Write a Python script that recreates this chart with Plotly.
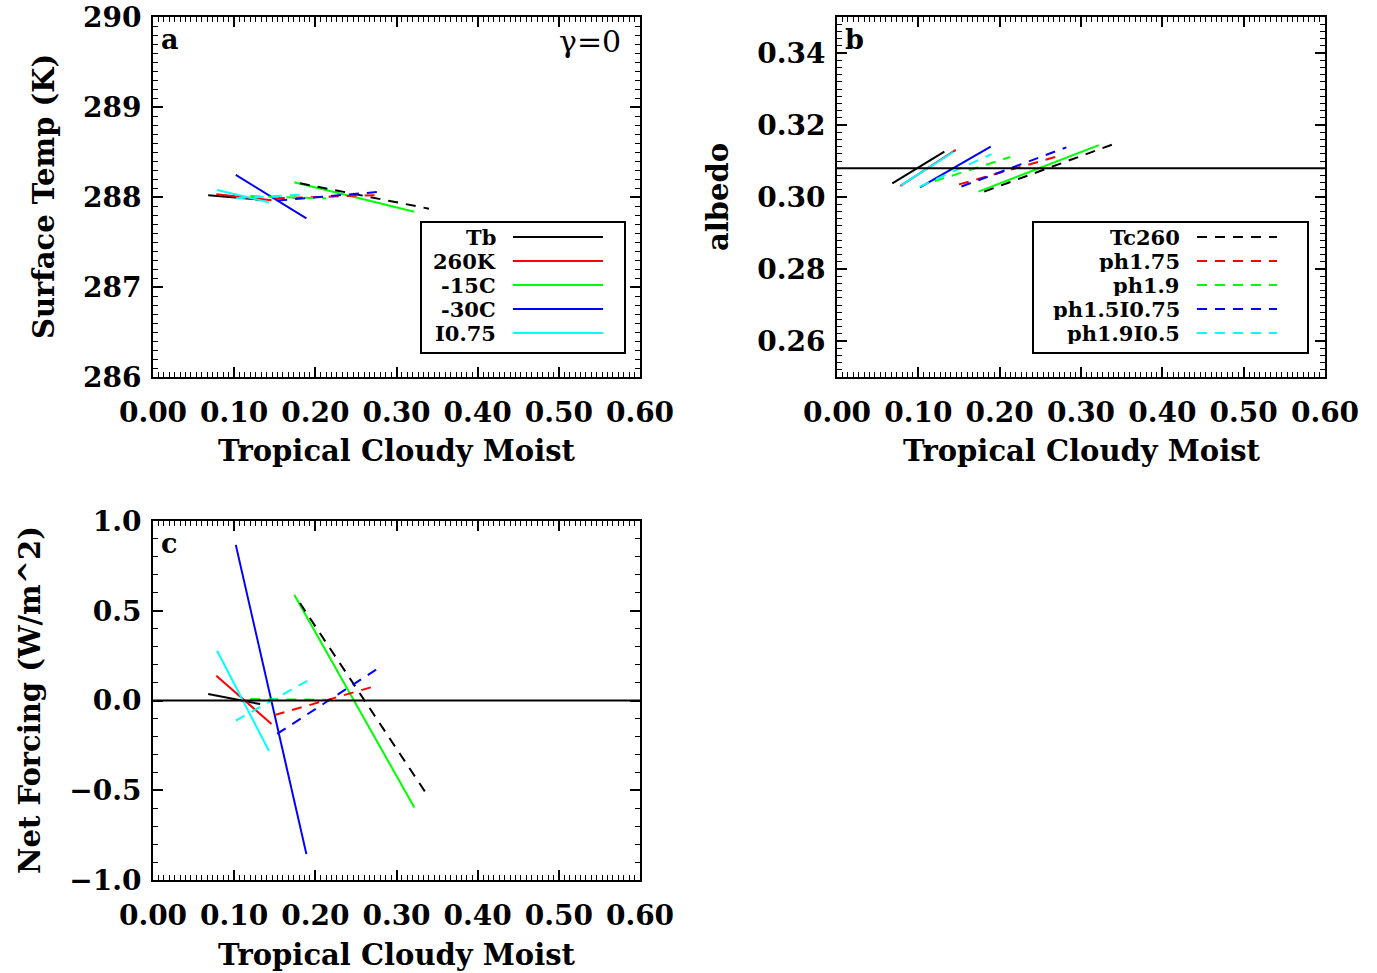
import plotly.graph_objects as go

# ---------------- data ----------------
case_names = ["Tb", "260K", "-15C", "-30C", "I0.75",
              "Tc260", "ph1.75", "ph1.9", "ph1.5I0.75", "ph1.9I0.5"]
case_colors = ["#000000", "#ff0000", "#00ff00", "#0000ff", "#00ffff",
               "#000000", "#ff0000", "#00ff00", "#0000ff", "#00ffff"]
case_dashes = ["solid"] * 5 + ["10px,8px"] * 5

# Tropical cloudy moist (x) at the two ends of each sensitivity segment
moist_start = [0.068, 0.078, 0.174, 0.102, 0.079, 0.181, 0.150, 0.120, 0.153, 0.102]
moist_end = [0.132, 0.146, 0.322, 0.189, 0.143, 0.340, 0.273, 0.213, 0.282, 0.190]

# panel a: surface temperature (K)
tsurf_start = [288.02, 288.03, 288.164, 288.246, 288.078, 288.153, 287.985, 288.01, 287.96, 287.985]
tsurf_end = [287.97, 287.965, 287.836, 287.762, 287.94, 287.87, 288.02, 287.985, 288.06, 288.03]

# panel b: albedo
albedo_start = [0.3038, 0.3031, 0.3015, 0.3027, 0.3033, 0.3015, 0.3035, 0.3044, 0.3029, 0.3029]
albedo_end = [0.3126, 0.3131, 0.3144, 0.3140, 0.3125, 0.3147, 0.3114, 0.3111, 0.3138, 0.3119]

# panel c: net forcing (W/m^2)
forcing_start = [0.036, 0.138, 0.589, 0.867, 0.277, 0.543, -0.081, 0.008, -0.186, -0.112]
forcing_end = [-0.020, -0.131, -0.596, -0.856, -0.282, -0.541, 0.079, 0.004, 0.193, 0.110]

albedo_ref = 0.308
forcing_ref = 0.0

# ---------------- figure ----------------
W, H = 1377, 973
FONT = "DejaVu Serif"
fig = go.Figure()

panels = [
    ("x", "y", tsurf_start, tsurf_end),
    ("x2", "y2", albedo_start, albedo_end),
    ("x3", "y3", forcing_start, forcing_end),
]
for xa, ya, ys, ye in panels:
    for i, name in enumerate(case_names):
        fig.add_trace(go.Scatter(
            x=[moist_start[i], moist_end[i]], y=[ys[i], ye[i]],
            mode="lines", name=name, showlegend=False,
            line=dict(color=case_colors[i], width=2, dash=case_dashes[i]),
            xaxis=xa, yaxis=ya))


def px_dom(x0, x1):
    return [x0 / W, x1 / W]


def py_dom(top, bottom):
    return [1 - bottom / H, 1 - top / H]


tick_font = dict(family=FONT, size=28, color="black", weight="bold")
axis_common = dict(
    showline=True, linecolor="black", linewidth=2, mirror="allticks",
    ticks="inside", ticklen=10, tickwidth=1.5, tickcolor="black",
    showgrid=False, zeroline=False, automargin=False,
    tickfont=tick_font,
)
minor_x = dict(ticks="inside", ticklen=5, tickwidth=1, tickcolor="black", dtick=0.1 / 15, showgrid=False)

xdom_left = px_dom(153, 640)
xdom_right = px_dom(837, 1325)
ydom_top = py_dom(17, 377)
ydom_bot = py_dom(521, 880)

xaxis_common = dict(axis_common, range=[0, 0.6], tick0=0, dtick=0.1, tickformat=".2f",
                    ticklabelstandoff=9, minor=minor_x)

fig.update_layout(
    width=W, height=H, margin=dict(l=0, r=0, t=0, b=0, pad=0, autoexpand=False),
    paper_bgcolor="white", plot_bgcolor="white", showlegend=False,
    xaxis=dict(xaxis_common, domain=xdom_left, anchor="y"),
    yaxis=dict(axis_common, domain=ydom_top, anchor="x", range=[286, 290], tick0=286, dtick=1,
               tickformat="d", ticklabelstandoff=4,
               minor=dict(ticks="inside", ticklen=5, tickwidth=1, tickcolor="black", dtick=0.1)),
    xaxis2=dict(xaxis_common, domain=xdom_right, anchor="y2"),
    yaxis2=dict(axis_common, domain=ydom_top, anchor="x2", range=[0.25, 0.35], tick0=0.26, dtick=0.02,
                tickformat=".2f", ticklabelstandoff=4,
                minor=dict(ticks="inside", ticklen=5, tickwidth=1, tickcolor="black", dtick=0.002)),
    xaxis3=dict(xaxis_common, domain=xdom_left, anchor="y3"),
    yaxis3=dict(axis_common, domain=ydom_bot, anchor="x3", range=[-1, 1], tick0=-1, dtick=0.5,
                tickformat=".1f", ticklabelstandoff=4,
                minor=dict(ticks="inside", ticklen=5, tickwidth=1, tickcolor="black", dtick=0.1)),
)

shapes = []
annotations = []

# reference lines
shapes.append(dict(type="line", xref="x2 domain", yref="y2", x0=0, x1=1, y0=albedo_ref, y1=albedo_ref,
                   line=dict(color="black", width=2)))
shapes.append(dict(type="line", xref="x3 domain", yref="y3", x0=0, x1=1, y0=forcing_ref, y1=forcing_ref,
                   line=dict(color="black", width=2)))

title_font = dict(family=FONT, size=29, color="black", weight="bold")
# axis titles
for xc, yc in [((153 + 640) / 2, 451), ((837 + 1325) / 2, 451), ((153 + 640) / 2, 955)]:
    annotations.append(dict(text="Tropical Cloudy Moist", xref="paper", yref="paper",
                            x=xc / W, y=1 - yc / H, showarrow=False, font=title_font,
                            xanchor="center", yanchor="middle"))
for txt, xc, yc in [("Surface Temp (K)", 44, 197), ("albedo", 718, 197), ("Net Forcing (W/m^2)", 30, 700)]:
    annotations.append(dict(text=txt, xref="paper", yref="paper", x=xc / W, y=1 - yc / H,
                            showarrow=False, font=title_font, textangle=-90,
                            xanchor="center", yanchor="middle"))

# panel letters
letter_font = dict(family=FONT, size=27, color="black", weight="bold")
for lab, xr, yr in [("a", "x domain", "y domain"), ("b", "x2 domain", "y2 domain"), ("c", "x3 domain", "y3 domain")]:
    annotations.append(dict(text=lab, xref=xr, yref=yr, x=0.012, y=0.985, showarrow=False,
                            xanchor="left", yanchor="top", font=letter_font))
annotations.append(dict(text="γ=0", xref="x domain", yref="y domain", x=0.965, y=0.985, showarrow=False,
                        xanchor="right", yanchor="top", font=dict(family=FONT, size=30, color="black")))

# legends (drawn manually: right-aligned label, then a line sample)
leg_font = dict(family=FONT, size=21, color="black", weight="bold")
legend_specs = [
    # (axis suffix, case indices, box left, box right, text right, line x0, line x1, plot x0, plot x1)
    ("", range(0, 5), 421, 625, 497, 513, 603, 153, 640),
    ("2", range(5, 10), 1033, 1308, 1181, 1197, 1277, 837, 1325),
]
ptop, pbot = 17, 377
for sfx, idxs, bl, br, tr, l0, l1, p0, p1 in legend_specs:
    xr, yr = f"x{sfx} domain", f"y{sfx} domain"
    fx = lambda v: (v - p0) / (p1 - p0)
    fy = lambda v: (pbot - v) / (pbot - ptop)
    shapes.append(dict(type="rect", xref=xr, yref=yr, x0=fx(bl), x1=fx(br), y0=fy(353), y1=fy(222),
                       line=dict(color="black", width=2), fillcolor="white", layer="above"))
    for k, i in enumerate(idxs):
        yrow = 237 + 24 * k
        annotations.append(dict(text=case_names[i], xref=xr, yref=yr, x=fx(tr), y=fy(yrow),
                                showarrow=False, xanchor="right", yanchor="middle", font=leg_font,
                                height=22, borderpad=0))
        shapes.append(dict(type="line", xref=xr, yref=yr, x0=fx(l0), x1=fx(l1), y0=fy(yrow), y1=fy(yrow),
                           line=dict(color=case_colors[i], width=2, dash=case_dashes[i]), layer="above"))

fig.update_layout(shapes=shapes, annotations=annotations)
fig.write_html("out.html")
